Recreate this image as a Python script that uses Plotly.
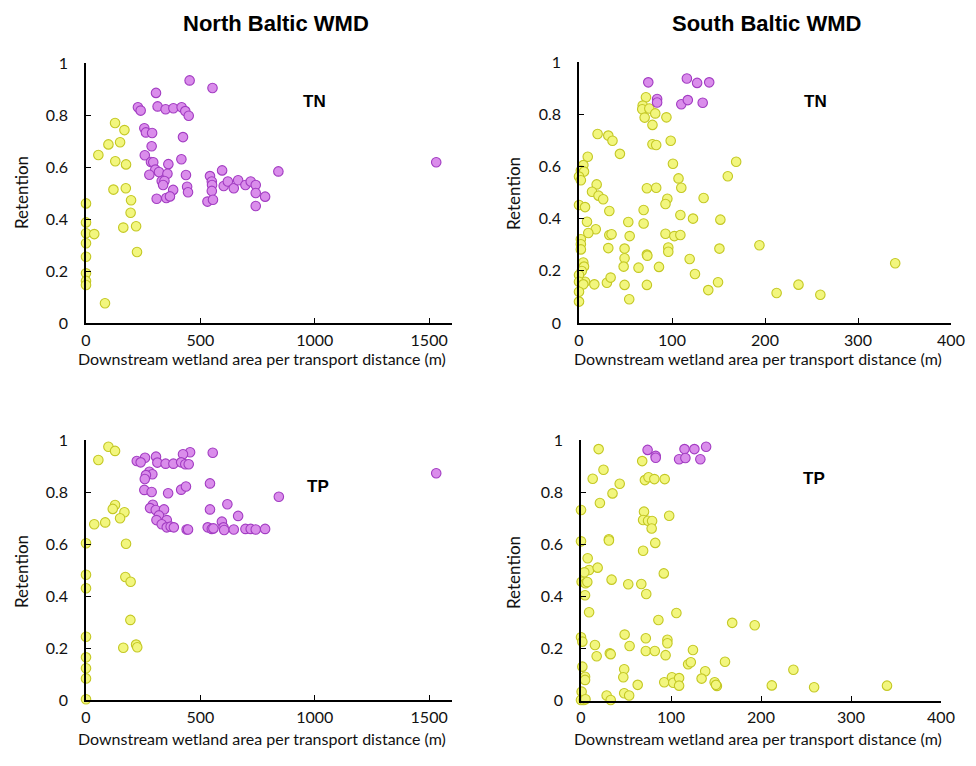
import plotly.graph_objects as go

# ---------------- DATA ----------------
# North Baltic WMD - TN
nb_tn_yellow_x = [0, 0, 0, 36, 0, 0, 0, 0, 0, 83, 54, 98, 127, 168, 149, 128, 175, 120, 174, 197, 195, 163, 219, 223]
nb_tn_yellow_y = [0.46, 0.387, 0.345, 0.342, 0.307, 0.255, 0.191, 0.162, 0.146, 0.076, 0.646, 0.687, 0.769, 0.742, 0.695, 0.622, 0.610, 0.513, 0.518, 0.472, 0.424, 0.367, 0.372, 0.273]
nb_tn_purple_x = [453, 553, 306, 227, 239, 313, 348, 382, 418, 434, 449, 255, 262, 289, 424, 287, 257, 284, 294, 360, 417, 303, 319, 277, 356, 437, 331, 343, 337, 381, 442, 446, 309, 351, 367, 542, 550, 551, 550, 531, 555, 595, 602, 620, 646, 665, 697, 720, 742, 742, 742, 783, 841, 1531]
nb_tn_purple_y = [0.933, 0.904, 0.885, 0.830, 0.817, 0.833, 0.822, 0.826, 0.830, 0.815, 0.797, 0.749, 0.733, 0.731, 0.715, 0.680, 0.645, 0.619, 0.618, 0.611, 0.630, 0.590, 0.581, 0.570, 0.574, 0.569, 0.546, 0.546, 0.531, 0.512, 0.524, 0.503, 0.478, 0.481, 0.487, 0.565, 0.544, 0.531, 0.508, 0.467, 0.474, 0.587, 0.527, 0.544, 0.518, 0.549, 0.531, 0.544, 0.531, 0.500, 0.450, 0.486, 0.583, 0.618]

# South Baltic WMD - TN
sb_tn_yellow_x = [72, 68.5, 68, 75.6, 70.6, 82, 94, 79, 20, 31.5, 36, 79, 83, 98.6, 44, 9.4, 4.7, 2, 5.4, 0, 2, 101, 107, 110, 19, 14, 21, 26, 73, 83, 95, 93, 0, 6.5, 32.6, 69.5, 8.6, 53, 69.5, 109, 122.6, 18, 10, 32.6, 35, 54.5, 93, 102.5, 109, 2, 2, 2, 31.5, 49, 96, 96, 73, 73.5, 49, 48, 64, 86, 119, 124.7, 4.6, 5.4, 3, 0, 6.5, 0, 4.6, 0, 0, 16.5, 30, 34, 49, 54, 73, 169, 160, 134, 152, 151, 194, 149.5, 139, 212.5, 236, 259.5, 340]
sb_tn_yellow_y = [0.865, 0.833, 0.819, 0.822, 0.787, 0.803, 0.788, 0.759, 0.724, 0.718, 0.698, 0.685, 0.682, 0.698, 0.648, 0.637, 0.605, 0.584, 0.580, 0.561, 0.547, 0.610, 0.554, 0.518, 0.531, 0.503, 0.488, 0.474, 0.516, 0.518, 0.476, 0.456, 0.452, 0.444, 0.429, 0.433, 0.388, 0.387, 0.381, 0.414, 0.400, 0.359, 0.345, 0.337, 0.340, 0.333, 0.342, 0.333, 0.337, 0.321, 0.302, 0.282, 0.287, 0.285, 0.289, 0.273, 0.262, 0.258, 0.248, 0.216, 0.212, 0.215, 0.245, 0.188, 0.232, 0.216, 0.199, 0.184, 0.158, 0.158, 0.148, 0.120, 0.082, 0.148, 0.154, 0.174, 0.146, 0.091, 0.146, 0.618, 0.562, 0.479, 0.396, 0.285, 0.298, 0.156, 0.126, 0.115, 0.147, 0.108, 0.229]
sb_tn_purple_x = [74.5, 84, 84, 116, 110, 117, 127, 140, 133]
sb_tn_purple_y = [0.922, 0.858, 0.845, 0.937, 0.838, 0.854, 0.920, 0.922, 0.844]

# North Baltic WMD - TP
nb_tp_yellow_x = [98, 127, 54, 127, 117, 168, 149, 84, 36, 0, 175, 0, 172, 195, 0, 194, 0, 163, 219, 224, 0, 0, 0, 0]
nb_tp_yellow_y = [0.974, 0.958, 0.923, 0.750, 0.735, 0.722, 0.699, 0.683, 0.676, 0.603, 0.601, 0.482, 0.473, 0.455, 0.430, 0.308, 0.243, 0.201, 0.213, 0.203, 0.164, 0.122, 0.083, 0.003]
nb_tp_purple_x = [455, 554, 424, 306, 258, 222, 239, 312, 348, 382, 416, 434, 449, 277, 290, 262, 257, 542, 255, 287, 359, 416, 437, 292, 280, 305, 341, 319, 308, 353, 331, 353, 370, 384, 440, 446, 542, 618, 665, 594, 601, 532, 550, 557, 604, 646, 697, 720, 742, 783, 843, 1531]
nb_tp_purple_y = [0.953, 0.951, 0.945, 0.936, 0.932, 0.919, 0.914, 0.913, 0.909, 0.909, 0.914, 0.907, 0.907, 0.878, 0.868, 0.865, 0.850, 0.833, 0.808, 0.800, 0.795, 0.809, 0.821, 0.751, 0.738, 0.731, 0.733, 0.710, 0.692, 0.692, 0.676, 0.664, 0.667, 0.664, 0.656, 0.656, 0.733, 0.753, 0.708, 0.686, 0.664, 0.664, 0.658, 0.660, 0.654, 0.656, 0.658, 0.658, 0.656, 0.658, 0.782, 0.872]

# South Baltic WMD - TP
sb_tp_yellow_x = [19.6, 68, 25, 13, 43, 71, 75, 81.5, 93, 35, 21, 0, 70, 69, 74.5, 79, 78.5, 98, 82.5, 31, 31, 0, 69, 7.4, 9, 3.7, 18.5, 0.7, 5, 7, 34, 52.5, 67, 72.5, 92, 4.5, 9, 106, 86, 0, 1.5, 48.5, 15.5, 54, 72, 96, 96, 17.4, 32, 33, 72, 82, 94, 124.4, 119, 122, 1.5, 4.5, 4.5, 48, 47, 63, 92.5, 101, 102.5, 109, 109, 0.7, 0, 3, 5, 28.5, 33, 48, 53.5, 168, 193, 160, 138, 134, 148.5, 151, 150, 212, 236, 259, 340]
sb_tp_yellow_y = [0.965, 0.919, 0.886, 0.851, 0.832, 0.846, 0.857, 0.850, 0.850, 0.795, 0.758, 0.731, 0.725, 0.693, 0.690, 0.689, 0.660, 0.709, 0.605, 0.619, 0.614, 0.611, 0.575, 0.546, 0.501, 0.492, 0.510, 0.456, 0.450, 0.455, 0.464, 0.446, 0.447, 0.409, 0.488, 0.404, 0.339, 0.336, 0.309, 0.243, 0.226, 0.253, 0.213, 0.209, 0.239, 0.233, 0.220, 0.170, 0.181, 0.178, 0.190, 0.190, 0.174, 0.194, 0.139, 0.147, 0.130, 0.091, 0.079, 0.120, 0.089, 0.060, 0.070, 0.089, 0.068, 0.086, 0.057, 0.034, 0.002, 0.002, 0.005, 0.019, 0.002, 0.028, 0.019, 0.298, 0.289, 0.149, 0.112, 0.084, 0.070, 0.056, 0.060, 0.058, 0.118, 0.051, 0.057]
sb_tp_purple_x = [74, 83, 83, 115, 109, 116, 126, 139, 132.6]
sb_tp_purple_y = [0.962, 0.939, 0.932, 0.965, 0.926, 0.931, 0.965, 0.974, 0.926]

y_ticks = [0, 0.2, 0.4, 0.6, 0.8, 1]
y_tick_labels = ["0", "0.2", "0.4", "0.6", "0.8", "1"]
north_x_ticks = [0, 500, 1000, 1500]
south_x_ticks = [0, 100, 200, 300, 400]

panel_titles = ["North Baltic WMD", "South Baltic WMD"]
panel_labels = ["TN", "TN", "TP", "TP"]
x_title = "Downstream wetland area per transport distance (m)"
y_title = "Retention"

# ---------------- STYLE ----------------
OFF = 8                      # page body margin
W, H = 976 - 2 * OFF, 766 - 2 * OFF
YELLOW_FILL = "#F2F67E"
YELLOW_LINE = "#C4C824"
PURPLE_FILL = "#DA8DEB"
PURPLE_LINE = "#A23CC2"
TICK_FONT = dict(family="Lato, Carlito, Calibri, sans-serif", size=16, color="#111111")

def px_x(p):
    return (p - OFF) / W

def px_y(p):
    return 1 - (p - OFF) / H

panels = [
    ("x", "y", (86, 452), (63, 323), [0, 1600], north_x_ticks,
     (nb_tn_yellow_x, nb_tn_yellow_y, nb_tn_purple_x, nb_tn_purple_y)),
    ("x2", "y2", (579, 951), (62, 323), [0, 400], south_x_ticks,
     (sb_tn_yellow_x, sb_tn_yellow_y, sb_tn_purple_x, sb_tn_purple_y)),
    ("x3", "y3", (86, 452), (440, 700), [0, 1600], north_x_ticks,
     (nb_tp_yellow_x, nb_tp_yellow_y, nb_tp_purple_x, nb_tp_purple_y)),
    ("x4", "y4", (581, 941), (440, 700.5), [0, 400], south_x_ticks,
     (sb_tp_yellow_x, sb_tp_yellow_y, sb_tp_purple_x, sb_tp_purple_y)),
]

fig = go.Figure()
layout = {}
for i, (xa, ya, xd, yd, xr, xt, data) in enumerate(panels):
    yx, yy, pxs, pys = data
    for xs, ys, fill, line in ((yx, yy, YELLOW_FILL, YELLOW_LINE), (pxs, pys, PURPLE_FILL, PURPLE_LINE)):
        fig.add_trace(go.Scatter(
            x=xs, y=ys, mode="markers", xaxis=xa, yaxis=ya, showlegend=False,
            cliponaxis=False,
            marker=dict(size=9.5, color=fill, line=dict(color=line, width=1.1)),
        ))
    xkey = "xaxis" if xa == "x" else "xaxis" + xa[1:]
    ykey = "yaxis" if ya == "y" else "yaxis" + ya[1:]
    common = dict(
        showline=True, linecolor="black", linewidth=1.5, ticks="inside",
        ticklen=5, tickwidth=1.2, tickcolor="black", showgrid=False, zeroline=False,
        tickfont=TICK_FONT, fixedrange=True, automargin=False,
    )
    layout[xkey] = dict(
        domain=[px_x(xd[0]), px_x(xd[1])], range=xr, anchor=ya,
        tickmode="array", tickvals=xt, ticktext=[str(v) for v in xt],
        ticklabelstandoff=2, **common,
    )
    layout[ykey] = dict(
        domain=[px_y(yd[1]), px_y(yd[0])], range=[0, 1], anchor=xa,
        tickmode="array", tickvals=y_ticks, ticktext=y_tick_labels,
        ticklabelstandoff=13, **common,
    )

annotations = []
AX_FONT = dict(family="Lato, Carlito, Calibri, sans-serif", size=16, color="#111111")
for txt, cx in zip(panel_titles, (276, 766)):
    annotations.append(dict(
        text="<b>" + txt + "</b>", x=px_x(cx), y=px_y(23), xref="paper", yref="paper",
        showarrow=False, xanchor="center", yanchor="middle",
        font=dict(family="Liberation Sans Narrow, Arial Narrow, Liberation Sans, Arial", size=22, color="black"),
    ))
for cx, cy in ((262, 358), (758, 358), (262, 738), (758, 738)):
    annotations.append(dict(
        text=x_title, x=px_x(cx), y=px_y(cy), xref="paper", yref="paper",
        showarrow=False, xanchor="center", yanchor="middle", font=AX_FONT,
    ))
for cx, cy in ((21, 193), (513, 193), (21, 572), (513, 572)):
    annotations.append(dict(
        text=y_title, x=px_x(cx), y=px_y(cy), xref="paper", yref="paper",
        showarrow=False, xanchor="center", yanchor="middle", textangle=-90,
        font=dict(family="Lato, Carlito, Calibri, sans-serif", size=17, color="#111111"),
    ))
for txt, (cx, cy) in zip(panel_labels, ((314, 102), (815, 102), (318, 486), (814, 478))):
    annotations.append(dict(
        text="<b>" + txt + "</b>", x=px_x(cx), y=px_y(cy), xref="paper", yref="paper",
        showarrow=False, xanchor="center", yanchor="middle",
        font=dict(family="Liberation Sans, Arial", size=17, color="black"),
    ))

fig.update_layout(
    width=W, height=H, margin=dict(l=0, r=0, t=0, b=0, autoexpand=False),
    paper_bgcolor="white", plot_bgcolor="white",
    annotations=annotations, **layout,
)

fig.write_html("out.html")
